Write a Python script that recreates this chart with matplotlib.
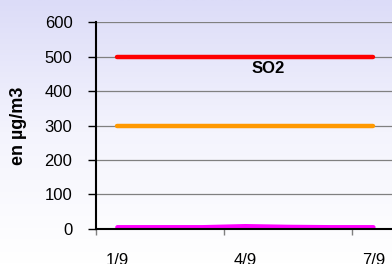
import numpy as np
import matplotlib.pyplot as plt
from matplotlib.colors import LinearSegmentedColormap

plt.rcParams['font.family'] = ['Liberation Sans', 'DejaVu Sans']

# Datos
dias = ['1/9', '2/9', '3/9', '4/9', '5/9', '6/9', '7/9']
umbral_alerta = [500, 500, 500, 500, 500, 500, 500]
umbral_info = [300, 300, 300, 300, 300, 300, 300]
so2 = [5, 5, 5, 8, 6, 5, 5]
etiquetas = ['1/9', '4/9', '7/9']

x = np.arange(len(dias))

fig = plt.figure(figsize=(3.92, 2.64), dpi=100)

# Fondo degradado (lavanda arriba, blanco abajo)
bg = fig.add_axes([0, 0, 1, 1])
cmap = LinearSegmentedColormap.from_list('fondo', ['#ffffff', '#f4f4fd', '#dcdcf8'])
grad = np.linspace(0, 1, 256).reshape(-1, 1)
bg.imshow(grad, aspect='auto', cmap=cmap, origin='lower', extent=[0, 1, 0, 1])
bg.axis('off')

ax = fig.add_axes([0.245, 0.1326, 0.762, 0.784])
ax.patch.set_alpha(0)

ax.plot(x, umbral_alerta, color='#ff0000', lw=3.2, solid_capstyle='round')
ax.plot(x, umbral_info, color='#ff9900', lw=3.2, solid_capstyle='round')
ax.plot(x, so2, color='#ff00ff', lw=3.2, solid_capstyle='round')

ax.text(3.53, 466, 'SO2', fontsize=12, fontweight='bold', ha='center', va='center')

ax.set_xlim(-0.5, 6.5)
ax.set_ylim(0, 600)
ax.set_yticks(np.arange(0, 601, 100))
ax.yaxis.grid(True, color='#808080', lw=0.9)
ax.set_axisbelow(True)

# marcas entre categorias, etiquetas sobre la categoria
ax.set_xticks([-0.5, 2.5, 5.5])
ax.set_xticklabels([])
ax.set_xticks([0, 3, 6], minor=True)
ax.set_xticklabels(etiquetas, minor=True)
ax.tick_params(axis='x', which='major', length=4, width=1, color='#808080', direction='out')
ax.tick_params(axis='x', which='minor', length=0, pad=17, labelsize=12)
ax.tick_params(axis='y', length=6, width=1, labelsize=12, pad=11)

for s in ['top', 'right']:
    ax.spines[s].set_visible(False)
ax.spines['left'].set_linewidth(1.5)
ax.spines['bottom'].set_linewidth(1.5)

ax.set_ylabel('en µg/m3', fontsize=13, fontweight='bold')
ax.yaxis.set_label_coords(-0.232, 0.5)

fig.savefig('out.png', dpi=100)
